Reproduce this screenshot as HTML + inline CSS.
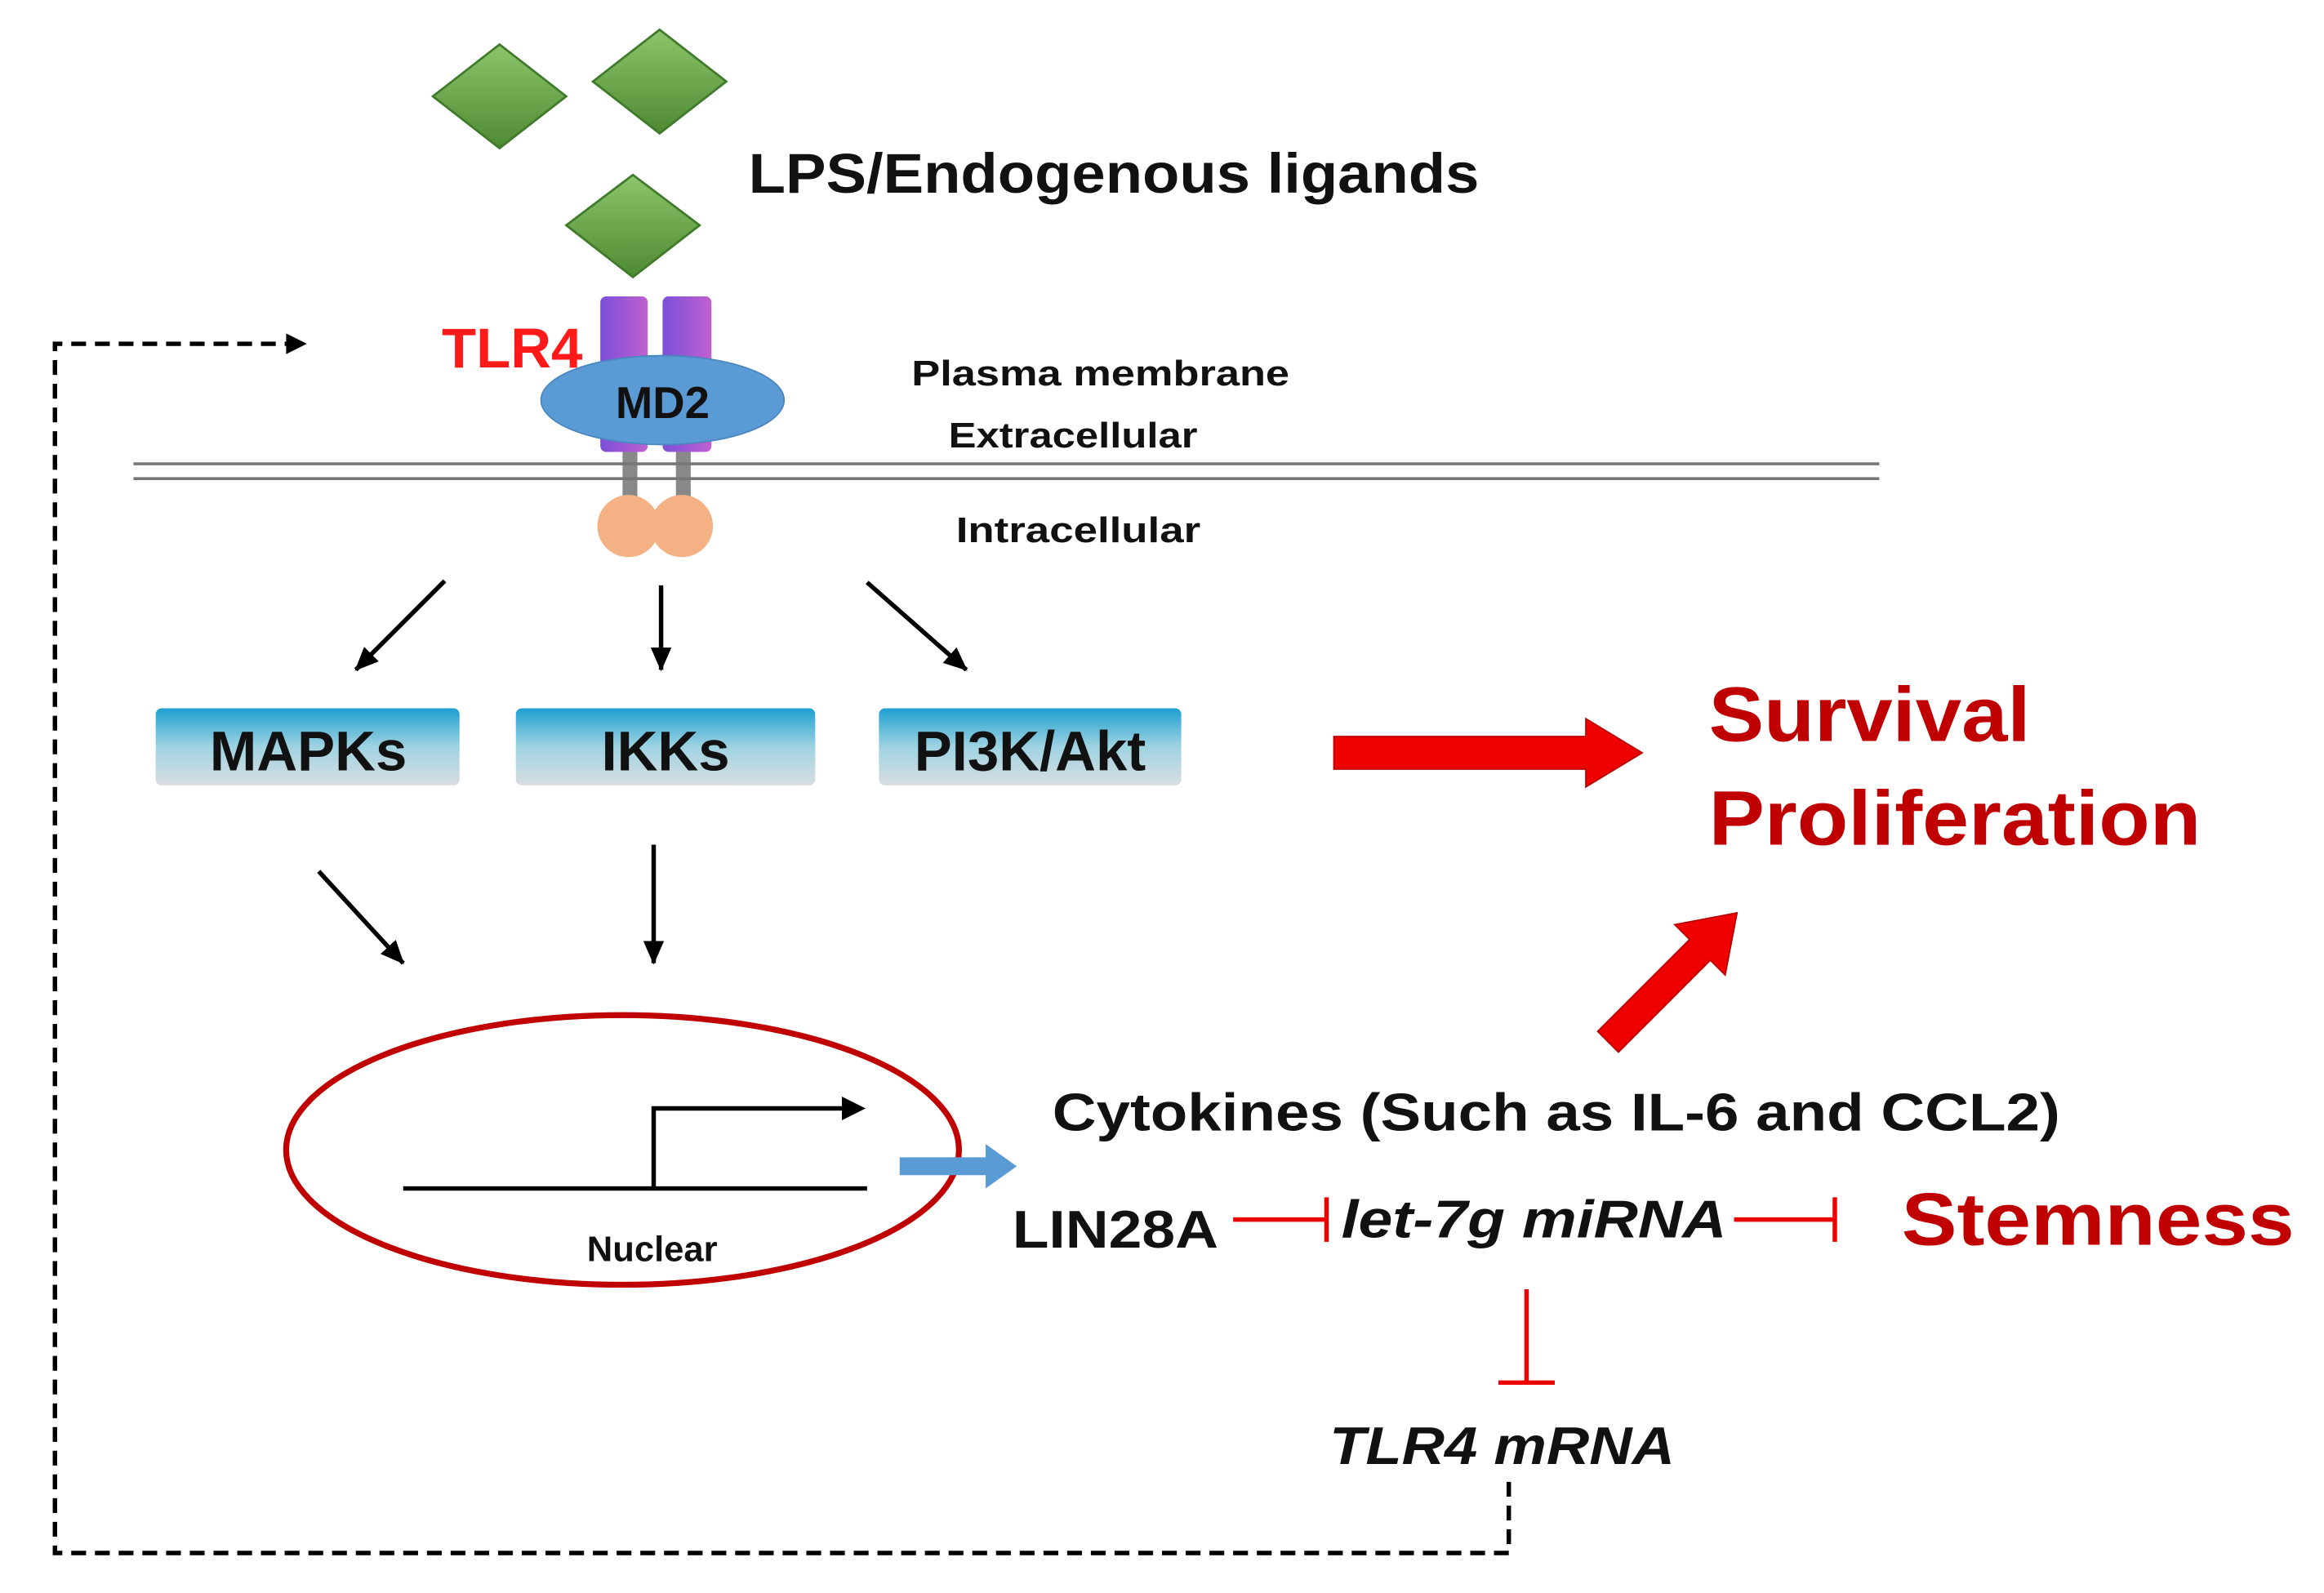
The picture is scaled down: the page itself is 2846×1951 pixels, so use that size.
<!DOCTYPE html>
<html><head><style>html,body{margin:0;padding:0;background:#fff}svg{display:block}</style></head>
<body>
<svg width="2846" height="1951" viewBox="0 0 1568 1075" xmlns="http://www.w3.org/2000/svg" font-family="Liberation Sans, sans-serif" font-weight="bold">
<defs>
<linearGradient id="g" x1="0" y1="0" x2="0" y2="1"><stop offset="0" stop-color="#8cc56a"/><stop offset="1" stop-color="#4e8a32"/></linearGradient>
<linearGradient id="b" x1="0" y1="0" x2="0" y2="1"><stop offset="0" stop-color="#1e9fd0"/><stop offset="0.5" stop-color="#9fd3e2"/><stop offset="1" stop-color="#d8dde0"/></linearGradient>
<linearGradient id="p" x1="0" y1="0" x2="1" y2="0"><stop offset="0" stop-color="#7b4fd8"/><stop offset="1" stop-color="#c060d0"/></linearGradient>
<marker id="a2" markerWidth="16" markerHeight="14" refX="15" refY="7" orient="auto" markerUnits="userSpaceOnUse"><path d="M0,0 L16,7 L0,14 z" fill="#000"/></marker>
</defs>
<g fill="url(#g)" stroke="#3f7a2a" stroke-width="1.5">
<path d="M337,30 L382,65 L337,100 L292,65z"/>
<path d="M445,20 L490,55 L445,90 L400,55z"/>
<path d="M427,118 L472,152 L427,187 L382,152z"/>
</g>
<text x="505" y="130" font-size="38" fill="#111" textLength="493" lengthAdjust="spacingAndGlyphs">LPS/Endogenous ligands</text>
<rect x="405" y="200" width="32" height="105" rx="4" fill="url(#p)"/>
<rect x="447" y="200" width="33" height="105" rx="4" fill="url(#p)"/>
<rect x="420" y="305" width="10" height="35" fill="#888"/>
<rect x="456" y="305" width="10" height="35" fill="#888"/>
<ellipse cx="447" cy="270" rx="82" ry="30" fill="#5b9bd5" stroke="#4a86c0"/>
<text x="447" y="282" font-size="30" text-anchor="middle" fill="#111">MD2</text>
<text x="298" y="248" font-size="38" fill="#ff1a1a">TLR4</text>
<line x1="90" y1="313" x2="1268" y2="313" stroke="#777" stroke-width="2"/>
<line x1="90" y1="323" x2="1268" y2="323" stroke="#777" stroke-width="2"/>
<circle cx="424" cy="355" r="21" fill="#f4b183"/>
<circle cx="460" cy="355" r="21" fill="#f4b183"/>
<text x="615" y="260" font-size="24" fill="#111" textLength="255" lengthAdjust="spacingAndGlyphs">Plasma membrane</text>
<text x="640" y="302" font-size="24" fill="#111" textLength="168" lengthAdjust="spacingAndGlyphs">Extracellular</text>
<text x="645" y="366" font-size="24" fill="#111" textLength="165" lengthAdjust="spacingAndGlyphs">Intracellular</text>
<g stroke="#000" stroke-width="3" marker-end="url(#a2)">
<line x1="300" y1="392" x2="240" y2="452"/>
<line x1="446" y1="395" x2="446" y2="452"/>
<line x1="585" y1="393" x2="652" y2="452"/>
<line x1="215" y1="588" x2="272" y2="650"/>
<line x1="441" y1="570" x2="441" y2="650"/>
</g>
<rect x="105" y="478" width="205" height="52" rx="4" fill="url(#b)"/>
<rect x="348" y="478" width="202" height="52" rx="4" fill="url(#b)"/>
<rect x="593" y="478" width="204" height="52" rx="4" fill="url(#b)"/>
<g font-size="38" text-anchor="middle" fill="#111">
<text x="208" y="520">MAPKs</text><text x="449" y="520">IKKs</text><text x="695" y="520">PI3K/Akt</text>
</g>
<path d="M900,497 L1070,497 L1070,485 L1108,508 L1070,531 L1070,519 L900,519z" fill="#ee0000" stroke="#b00" stroke-width="1"/>
<text x="1153" y="500" font-size="52" fill="#c00000" textLength="217" lengthAdjust="spacingAndGlyphs">Survival</text>
<text x="1153" y="570" font-size="52" fill="#c00000" textLength="332" lengthAdjust="spacingAndGlyphs">Proliferation</text>
<path d="M1078,696 L1140,634 L1130,624 L1172,616 L1164,658 L1154,648 L1092,710z" fill="#ee0000" stroke="#b00"/>
<ellipse cx="420" cy="776" rx="227" ry="91" fill="none" stroke="#c00000" stroke-width="4"/>
<line x1="272" y1="802" x2="585" y2="802" stroke="#000" stroke-width="3"/>
<polyline points="441,802 441,748 572,748" fill="none" stroke="#000" stroke-width="3"/>
<path d="M568,740 L584,748 L568,756z" fill="#000"/>
<text x="440" y="851" font-size="24" text-anchor="middle" fill="#111">Nuclear</text>
<path d="M607,781 L665,781 L665,772 L686,787 L665,802 L665,793 L607,793z" fill="#5b9bd5"/>
<text x="710" y="763" font-size="36" fill="#111" textLength="680" lengthAdjust="spacingAndGlyphs">Cytokines (Such as IL-6 and CCL2)</text>
<text x="683" y="842" font-size="36" fill="#111" textLength="139" lengthAdjust="spacingAndGlyphs">LIN28A</text>
<g stroke="#e00" stroke-width="3">
<line x1="832" y1="823" x2="895" y2="823"/><line x1="895" y1="808" x2="895" y2="838"/>
<line x1="1170" y1="823" x2="1238" y2="823"/><line x1="1238" y1="808" x2="1238" y2="838"/>
<line x1="1030" y1="870" x2="1030" y2="933"/><line x1="1011" y1="933" x2="1049" y2="933"/>
</g>
<text x="905" y="835" font-size="36" font-style="italic" fill="#111" textLength="260" lengthAdjust="spacingAndGlyphs">let-7g miRNA</text>
<text x="1283" y="840" font-size="50" fill="#c00000" textLength="265" lengthAdjust="spacingAndGlyphs">Stemness</text>
<text x="897" y="988" font-size="36" font-style="italic" fill="#111" textLength="233" lengthAdjust="spacingAndGlyphs">TLR4 mRNA</text>
<polyline points="1018,1000 1018,1048 37,1048 37,232 195,232" fill="none" stroke="#000" stroke-width="3" stroke-dasharray="10,6"/>
<path d="M193,225 L207,232 L193,239z" fill="#000"/>
</svg>
</body></html>
